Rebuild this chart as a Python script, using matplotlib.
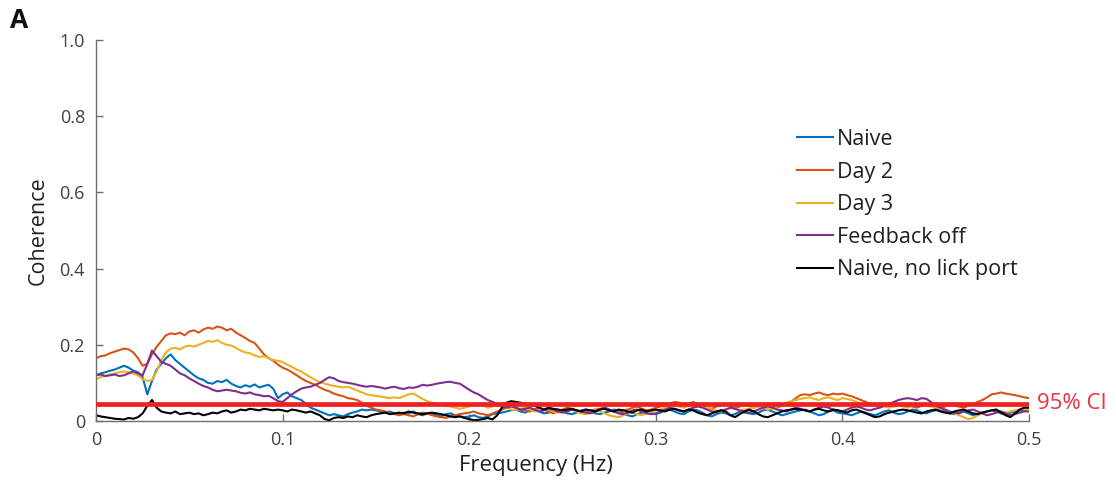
import numpy as np
import matplotlib
matplotlib.use("Agg")
import matplotlib.pyplot as plt

# ---------------- data ----------------
freq_step = 0.0025
freq = np.round(np.arange(0, 0.5 + freq_step / 2, freq_step), 4)

naive = [
    .120, .125, .128, .132, .135, .140, .145, .140, .132, .128, .115, .070, .105, .135, .150, .165, .175, .160, .150, .140,
    .130, .120, .112, .108, .100, .098, .105, .102, .108, .098, .092, .088, .094, .090, .096, .088, .092, .095, .085, .060,
    .070, .075, .065, .060, .055, .045, .035, .030, .025, .020, .015, .018, .015, .012, .018, .022, .025, .030, .028, .030,
    .028, .025, .022, .025, .020, .018, .022, .020, .025, .018, .015, .020, .018, .015, .012, .018, .020, .015, .012, .010,
    .012, .015, .010, .008, .012, .018, .020, .022, .025, .028, .030, .025, .022, .028, .030, .025, .020, .022, .028, .030,
    .025, .020, .018, .022, .028, .030, .025, .020, .018, .022, .025, .030, .028, .020, .015, .012, .018, .022, .025, .020,
    .018, .022, .028, .030, .025, .020, .018, .025, .030, .028, .022, .015, .012, .018, .022, .020, .015, .018, .025, .022,
    .020, .018, .022, .028, .030, .025, .020, .015, .018, .022, .025, .028, .030, .025, .020, .015, .018, .025, .028, .022,
    .020, .018, .015, .020, .025, .022, .018, .015, .020, .025, .028, .022, .018, .020, .025, .030, .028, .022, .020, .025,
    .028, .030, .025, .020, .018, .022, .025, .020, .015, .018, .022, .025, .028, .025, .020, .018, .022, .025, .028, .030,
    .030,
]

day2 = [
    .165, .170, .172, .178, .182, .186, .190, .188, .180, .165, .145, .150, .175, .195, .210, .225, .230, .228, .232, .225,
    .235, .238, .232, .240, .245, .242, .248, .245, .238, .242, .232, .225, .218, .210, .205, .190, .175, .165, .158, .148,
    .140, .135, .128, .120, .112, .105, .100, .095, .088, .082, .078, .072, .068, .065, .060, .058, .055, .048, .040, .035,
    .030, .028, .025, .020, .018, .015, .018, .015, .012, .018, .022, .020, .015, .012, .010, .008, .012, .015, .018, .020,
    .022, .025, .020, .018, .015, .020, .025, .030, .035, .040, .035, .030, .028, .025, .030, .035, .030, .025, .020, .025,
    .030, .035, .032, .028, .025, .022, .028, .030, .032, .035, .030, .025, .022, .028, .030, .035, .038, .032, .028, .030,
    .035, .038, .040, .045, .050, .048, .042, .045, .050, .045, .040, .035, .032, .038, .042, .045, .040, .035, .038, .042,
    .040, .035, .038, .042, .045, .040, .035, .040, .045, .050, .060, .068, .070, .068, .072, .075, .070, .068, .072, .070,
    .072, .068, .065, .060, .055, .050, .045, .040, .042, .045, .040, .038, .042, .045, .040, .038, .035, .040, .042, .045,
    .040, .035, .038, .042, .040, .038, .035, .040, .045, .050, .055, .062, .070, .072, .075, .072, .070, .068, .065, .062,
    .060,
]

day3 = [
    .110, .115, .118, .122, .125, .128, .130, .128, .125, .120, .110, .105, .108, .130, .160, .180, .190, .192, .188, .195,
    .198, .195, .200, .205, .210, .208, .212, .205, .200, .198, .192, .185, .180, .178, .172, .168, .170, .165, .160, .158,
    .155, .148, .142, .135, .130, .122, .115, .108, .102, .098, .095, .092, .090, .088, .090, .085, .080, .075, .070, .068,
    .066, .064, .062, .060, .062, .060, .065, .070, .072, .065, .058, .052, .048, .045, .042, .040, .038, .035, .032, .035,
    .038, .042, .045, .040, .035, .038, .042, .040, .035, .030, .028, .032, .035, .030, .025, .028, .032, .030, .025, .022,
    .025, .028, .030, .025, .020, .018, .022, .028, .025, .020, .015, .012, .010, .015, .020, .022, .018, .015, .020, .025,
    .028, .030, .035, .040, .042, .038, .035, .040, .045, .042, .038, .035, .030, .028, .025, .030, .035, .032, .028, .030,
    .032, .035, .038, .035, .030, .032, .038, .042, .048, .052, .055, .058, .060, .062, .058, .055, .060, .062, .058, .055,
    .060, .058, .055, .050, .045, .040, .042, .045, .040, .038, .035, .040, .042, .038, .035, .040, .045, .042, .040, .038,
    .035, .032, .030, .025, .020, .015, .010, .005, .008, .015, .020, .025, .028, .030, .025, .022, .025, .028, .030, .032,
    .030,
]

feedback_off = [
    .120, .122, .118, .120, .122, .118, .120, .125, .130, .125, .120, .150, .185, .170, .155, .150, .145, .135, .125, .120,
    .112, .105, .098, .092, .088, .082, .078, .080, .082, .080, .078, .074, .072, .075, .070, .068, .065, .066, .060, .052,
    .050, .060, .070, .078, .085, .088, .090, .095, .100, .108, .115, .112, .105, .102, .100, .098, .095, .092, .090, .092,
    .090, .088, .085, .088, .090, .086, .084, .088, .087, .090, .095, .093, .095, .098, .100, .102, .103, .100, .098, .090,
    .082, .075, .070, .062, .055, .050, .045, .040, .035, .038, .035, .030, .032, .035, .030, .025, .028, .032, .030, .025,
    .022, .025, .030, .028, .025, .022, .020, .025, .030, .035, .030, .025, .020, .018, .022, .028, .030, .025, .020, .018,
    .020, .025, .030, .035, .032, .028, .025, .030, .035, .038, .035, .030, .025, .022, .028, .030, .035, .032, .028, .025,
    .022, .025, .030, .035, .038, .035, .030, .028, .025, .030, .035, .032, .028, .025, .030, .035, .038, .035, .030, .028,
    .025, .030, .035, .038, .035, .030, .028, .032, .035, .040, .045, .050, .055, .058, .060, .058, .055, .060, .058, .050,
    .040, .035, .030, .025, .022, .020, .025, .028, .030, .025, .020, .015, .018, .022, .025, .020, .015, .018, .022, .025,
    .025,
]

naive_no_lick = [
    .015, .012, .010, .008, .006, .005, .004, .008, .006, .010, .020, .040, .055, .035, .025, .022, .020, .025, .018, .020,
    .022, .018, .020, .015, .018, .022, .020, .025, .028, .022, .025, .030, .028, .032, .030, .028, .032, .030, .028, .030,
    .028, .025, .030, .028, .025, .022, .025, .020, .015, .005, .002, .008, .010, .008, .012, .010, .015, .012, .010, .015,
    .018, .020, .022, .018, .020, .022, .020, .025, .022, .020, .018, .020, .022, .020, .018, .015, .012, .010, .012, .008,
    .005, .002, .003, .005, .008, .004, .015, .035, .048, .052, .050, .048, .045, .042, .040, .035, .030, .035, .032, .030,
    .028, .030, .032, .028, .025, .030, .028, .025, .030, .032, .028, .025, .030, .028, .025, .022, .028, .030, .025, .028,
    .030, .028, .025, .030, .032, .028, .025, .030, .028, .022, .018, .015, .020, .025, .028, .025, .015, .010, .018, .025,
    .030, .025, .018, .012, .010, .015, .020, .025, .028, .030, .032, .030, .028, .025, .030, .032, .028, .025, .030, .028,
    .025, .022, .028, .030, .025, .020, .015, .010, .012, .018, .022, .025, .028, .030, .028, .025, .022, .020, .025, .028,
    .030, .025, .022, .020, .025, .028, .030, .025, .020, .018, .022, .025, .028, .030, .022, .015, .010, .020, .030, .035,
    .035,
]

ci_level = 0.045

series_labels = ["Naive", "Day 2", "Day 3", "Feedback off", "Naive, no lick port"]
series_values = [naive, day2, day3, feedback_off, naive_no_lick]
series_colors = ["#0072BD", "#D95319", "#EDB120", "#7E2F8E", "#000000"]

x_ticks = [0, 0.1, 0.2, 0.3, 0.4, 0.5]
x_tick_labels = ["0", "0.1", "0.2", "0.3", "0.4", "0.5"]
y_ticks = [0, 0.2, 0.4, 0.6, 0.8, 1.0]
y_tick_labels = ["0", "0.2", "0.4", "0.6", "0.8", "1.0"]

# ---------------- plot ----------------
plt.rcParams['font.family'] = ['Open Sans', 'DejaVu Sans']

W, H = 1116, 488
fig = plt.figure(figsize=(W / 100, H / 100), dpi=100)
ax = fig.add_axes([96 / W, 1 - 421 / H, (1029 - 96) / W, (421 - 40) / H])

handles = []
for vals, lab, col in zip(series_values, series_labels, series_colors):
    h, = ax.plot(freq, vals, color=col, lw=1.5, label=lab)
    handles.append(h)

ax.axhline(ci_level, color="#F02020", lw=3.4, zorder=5)
ax.text(0.5045, ci_level, "95% CI", color="#E8323C", fontsize=16,
        va="center", ha="left", clip_on=False)

ax.set_xlim(0, 0.5)
ax.set_ylim(0, 1.0)
ax.set_xticks(x_ticks)
ax.set_xticklabels(x_tick_labels)
ax.set_yticks(y_ticks)
ax.set_yticklabels(y_tick_labels)

for s in ["top", "right"]:
    ax.spines[s].set_visible(False)
for s in ["left", "bottom"]:
    ax.spines[s].set_color("#6e6e6e")
    ax.spines[s].set_linewidth(1.0)

ax.tick_params(direction="in", length=5, width=1.0, colors="#6e6e6e",
               labelcolor="#404040", labelsize=13)
ax.tick_params(axis="x", pad=7)
ax.tick_params(axis="y", pad=8)

ax.set_xlabel("Frequency (Hz)", fontsize=16, color="#202020")
ax.xaxis.set_label_coords((536 - 96) / (1029 - 96), -(466 - 421) / (421 - 40))
ax.set_ylabel("Coherence", fontsize=15.5, color="#202020")
ax.yaxis.set_label_coords(-(96 - 38) / (1029 - 96), 0.5)
ax.xaxis.label.set_va("center")
ax.yaxis.label.set_va("center")

leg = ax.legend(handles=handles, loc="upper left",
                bbox_to_anchor=(797 / W, 1 - 129 / H),
                bbox_transform=fig.transFigure, frameon=False,
                fontsize=15.5, handlelength=1.65, handletextpad=0.2,
                labelspacing=0.54, borderaxespad=0, borderpad=0)
for t in leg.get_texts():
    t.set_color("#202020")

fig.text(10 / W, 1 - 20 / H, "A", fontsize=19, fontweight="bold",
         va="center", ha="left", color="#101010")

fig.savefig("out.png", dpi=100)
